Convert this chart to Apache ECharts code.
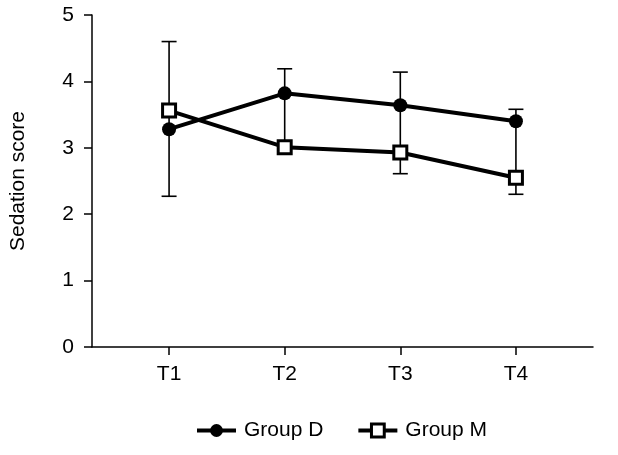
<!DOCTYPE html>
<html>
<head>
<meta charset="utf-8">
<script src="https://cdn.jsdelivr.net/npm/echarts@6/dist/echarts.min.js"></script>
<style>html,body{margin:0;padding:0;background:#fff;}#c{width:618px;height:455px;}</style>
</head>
<body>
<div id="c"></div>
<script>
var categories = ['T1', 'T2', 'T3', 'T4'];
var groupD = [3.28, 3.82, 3.64, 3.40];
var groupM = [3.56, 3.01, 2.93, 2.55];
// error bar extents per time point: low, high, whether a cap is drawn at each end
var errLow = [2.27, 3.01, 2.61, 2.30];
var errHigh = [4.60, 4.19, 4.14, 3.58];
var capLow = [true, false, true, true];
var capHigh = [true, true, true, true];
var yTicks = [0, 1, 2, 3, 4, 5];

var FONT = 'Liberation Sans, Arial, sans-serif';
var chart = echarts.init(document.getElementById('c'));

function pairs(vals) { return vals.map(function (v, i) { return [i + 1, v]; }); }
var errData = categories.map(function (c, i) {
  return [i + 1, errLow[i], errHigh[i], capLow[i] ? 1 : 0, capHigh[i] ? 1 : 0];
});

chart.setOption({
  animation: false,
  backgroundColor: '#fff',
  grid: { left: 91, right: 25, top: 15, bottom: 108, containLabel: false },
  legend: {
    bottom: 14,
    left: 195,
    padding: 0,
    itemWidth: 39,
    itemHeight: 16,
    itemGap: 33,
    lineStyle: { width: 4 },
    itemStyle: { borderWidth: 3 },
    textStyle: { fontFamily: FONT, fontSize: 21, color: '#000', padding: [0, 0, 0, 3] },
    data: ['Group D', 'Group M']
  },
  xAxis: {
    type: 'value',
    min: 1 / 3,
    max: 14 / 3,
    splitLine: { show: false },
    axisLine: { show: true, onZero: false, lineStyle: { color: '#000', width: 1.5 } },
    axisTick: { show: true, length: 8, customValues: [1, 2, 3, 4], lineStyle: { color: '#000', width: 1.5 } },
    axisLabel: {
      customValues: [1, 2, 3, 4],
      margin: 17,
      fontFamily: FONT, fontSize: 21, color: '#000',
      formatter: function (v) { return categories[Math.round(v) - 1] || ''; }
    }
  },
  yAxis: {
    type: 'value',
    min: yTicks[0],
    max: yTicks[yTicks.length - 1],
    interval: 1,
    name: 'Sedation score',
    nameLocation: 'middle',
    nameGap: 63,
    nameTextStyle: { fontFamily: FONT, fontSize: 21, color: '#000' },
    splitLine: { show: false },
    axisLine: { show: true, lineStyle: { color: '#000', width: 1.5 } },
    axisTick: { show: true, length: 8, lineStyle: { color: '#000', width: 1.5 } },
    axisLabel: { margin: 18, fontFamily: FONT, fontSize: 21, color: '#000' }
  },
  series: [
    {
      type: 'custom',
      name: 'err',
      z: 1,
      data: errData,
      renderItem: function (params, api) {
        var lo = api.coord([api.value(0), api.value(1)]);
        var hi = api.coord([api.value(0), api.value(2)]);
        var w = 7.5;
        var st = { stroke: '#000', lineWidth: 1.6 };
        var ch = [{ type: 'line', shape: { x1: lo[0], y1: lo[1], x2: hi[0], y2: hi[1] }, style: st }];
        if (api.value(3)) ch.push({ type: 'line', shape: { x1: lo[0] - w, y1: lo[1], x2: lo[0] + w, y2: lo[1] }, style: st });
        if (api.value(4)) ch.push({ type: 'line', shape: { x1: hi[0] - w, y1: hi[1], x2: hi[0] + w, y2: hi[1] }, style: st });
        return { type: 'group', children: ch };
      }
    },
    {
      type: 'line',
      name: 'Group D',
      z: 3,
      data: pairs(groupD),
      symbol: 'circle',
      symbolSize: 14,
      lineStyle: { color: '#000', width: 4 },
      itemStyle: { color: '#000' }
    },
    {
      type: 'line',
      name: 'Group M',
      z: 4,
      data: pairs(groupM),
      symbol: 'rect',
      symbolSize: 13,
      lineStyle: { color: '#000', width: 4 },
      itemStyle: { color: '#fff', borderColor: '#000', borderWidth: 3 }
    }
  ]
});
</script>
</body>
</html>
